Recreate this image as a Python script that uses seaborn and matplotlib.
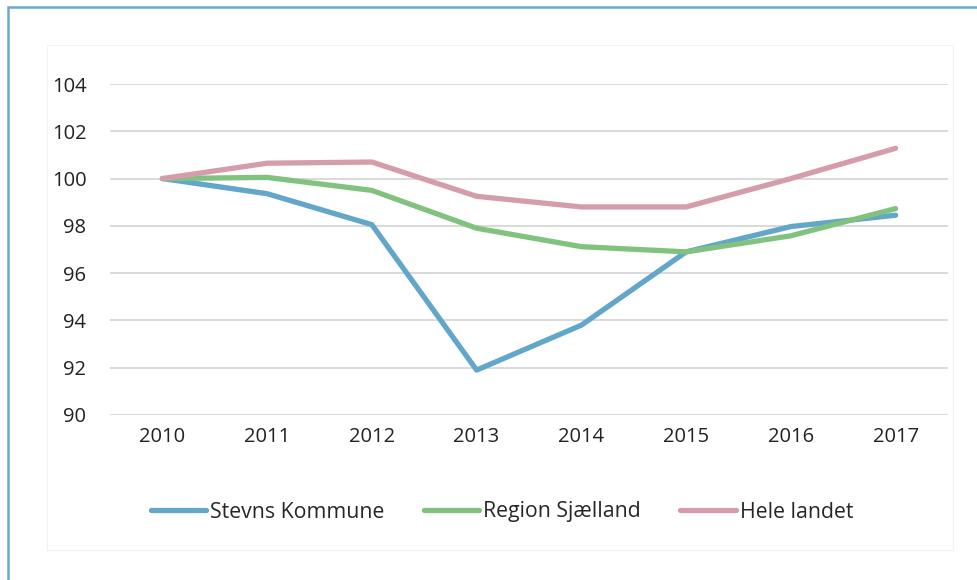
import pandas as pd
import seaborn as sns
import matplotlib.pyplot as plt
from matplotlib.patches import Rectangle

years = [2010, 2011, 2012, 2013, 2014, 2015, 2016, 2017]
stevns = [100.0, 99.36, 98.05, 91.9, 93.8, 96.9, 97.97, 98.45]
region = [100.0, 100.05, 99.5, 97.9, 97.12, 96.9, 97.58, 98.73]
landet = [100.0, 100.65, 100.7, 99.25, 98.8, 98.8, 100.0, 101.28]
series_names = ["Stevns Kommune", "Region Sjælland", "Hele landet"]
colors = ["#62a6c9", "#80c27e", "#d59dab"]
yticks = [90, 92, 94, 96, 98, 100, 102, 104]

df = pd.DataFrame({
    "year": years * 3,
    "value": stevns + region + landet,
    "serie": [series_names[0]] * 8 + [series_names[1]] * 8 + [series_names[2]] * 8,
})

sns.set_style("white")
plt.rcParams['font.family'] = ['Open Sans', 'DejaVu Sans']

fig = plt.figure(figsize=(9.78, 5.8), dpi=100)
# outer blue frame and faint plot-area box
fig.patches.append(Rectangle((8 / 978, -0.05), 1.1, (580 - 7) / 580 + 0.05,
                             transform=fig.transFigure, fill=False,
                             edgecolor="#6aaad3", linewidth=1.8))
fig.patches.append(Rectangle((47 / 978, (580 - 550) / 580), 906 / 978, 505 / 580,
                             transform=fig.transFigure, fill=False,
                             edgecolor="#f2f2f2", linewidth=0.8))

ax = fig.add_axes([110 / 978, (580 - 415) / 580, 838 / 978, 331 / 580])
sns.lineplot(data=df, x="year", y="value", hue="serie", palette=colors,
             linewidth=3.8, ax=ax, solid_capstyle="round", legend=True)

ax.set_xlim(2009.5, 2017.5)
ax.set_ylim(90, 104)
ax.set_yticks(yticks)
ax.set_xticks(years)
ax.yaxis.grid(True, color="#d9d9d9", linewidth=1.4)
ax.set_axisbelow(True)
for s in ax.spines.values():
    s.set_visible(False)
ax.tick_params(axis="both", length=0, labelsize=14.5, colors="#222222")
ax.tick_params(axis="y", pad=17)
ax.tick_params(axis="x", pad=9)
ax.set_xlabel("")
ax.set_ylabel("")

handles, labels = ax.get_legend_handles_labels()
ax.legend(handles, labels, loc="center", bbox_to_anchor=(502 / 978, (580 - 512) / 580),
          bbox_transform=fig.transFigure, ncol=3, frameon=False, fontsize=15.3,
          handlelength=2.6, handletextpad=0.2, columnspacing=1.85)
for line in ax.get_legend().get_lines():
    line.set_linewidth(3.8)
    line.set_solid_capstyle("round")

fig.savefig("out.png", dpi=100)
